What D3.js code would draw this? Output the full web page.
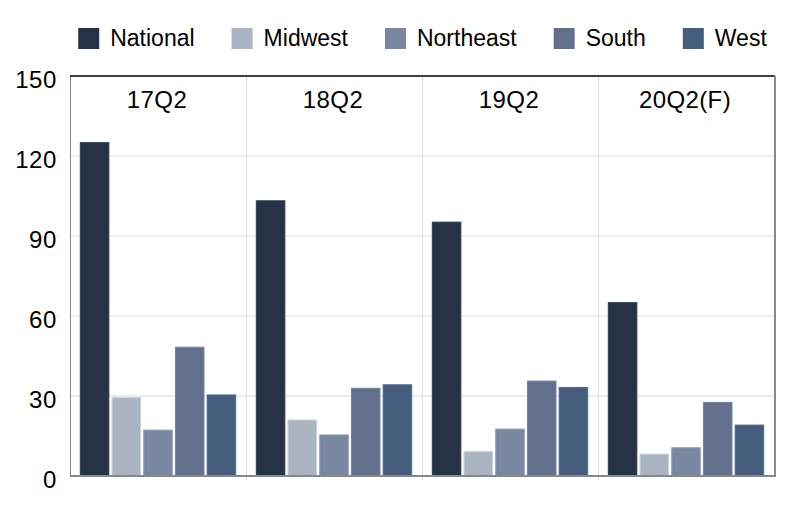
<!DOCTYPE html>
<html>
<head>
<meta charset="utf-8">
<script src="https://cdn.jsdelivr.net/npm/d3@7"></script>
<style>
  html, body { margin: 0; padding: 0; background: #fff; }
  svg { display: block; }
  text { font-family: "Liberation Sans", Arial, Helvetica, sans-serif; fill: #000; }
</style>
</head>
<body>
<svg id="chart" width="800" height="513"></svg>
<script>
const categories = ["17Q2", "18Q2", "19Q2", "20Q2(F)"];
const seriesNames = ["National", "Midwest", "Northeast", "South", "West"];
const seriesColors = ["#263347", "#aab5c1", "#7987a1", "#63708d", "#455d7c"];
const National  = [125, 103.2, 95.2, 65];
const Midwest   = [29.4, 21, 9.1, 8.2];
const Northeast = [17.2, 15.4, 17.6, 10.6];
const South     = [48.3, 32.9, 35.6, 27.6];
const West      = [30.4, 34.2, 33.2, 19.1];
const yTicks = [0, 30, 60, 90, 120, 150];

const seriesValues = [National, Midwest, Northeast, South, West];

const svg = d3.select("#chart");
const mLeft = 70, mRight = 775, mTop = 76, mBottom = 476;

const x0 = d3.scaleBand().domain(categories).range([mLeft, mRight - 1]).paddingInner(0).paddingOuter(0);
const x1 = d3.scaleBand().domain(seriesNames).range([0, x0.bandwidth()]).paddingInner(0.1).paddingOuter(0.325);
const y = d3.scaleLinear().domain([0, 150]).range([mBottom, mTop]);
const color = d3.scaleOrdinal().domain(seriesNames).range(seriesColors);

// horizontal gridlines
svg.append("g").selectAll("line")
  .data(yTicks.filter(t => t > 0 && t < 150))
  .join("line")
  .attr("x1", mLeft).attr("x2", mRight)
  .attr("y1", d => y(d)).attr("y2", d => y(d))
  .attr("stroke", d => d === 30 ? "#ececec" : "#dcdcdc")
  .attr("stroke-width", d => d === 30 ? 2 : 1);

// vertical dividers
svg.append("g").selectAll("line")
  .data(categories.slice(1))
  .join("line")
  .attr("x1", d => Math.round(x0(d)) + 0.5).attr("x2", d => Math.round(x0(d)) + 0.5)
  .attr("y1", mTop).attr("y2", mBottom + 4)
  .attr("stroke", "#dcdcdc").attr("stroke-width", 1);

// bars
const rows = [];
categories.forEach((c, ci) => {
  seriesNames.forEach((s, si) => rows.push({ cat: c, series: s, value: seriesValues[si][ci] }));
});
svg.append("g").selectAll("rect")
  .data(rows)
  .join("rect")
  .attr("x", d => x0(d.cat) + x1(d.series))
  .attr("width", x1.bandwidth())
  .attr("y", d => y(d.value))
  .attr("height", d => y(0) - y(d.value))
  .attr("fill", d => color(d.series))
  .attr("stroke", d => d3.color(color(d.series)).brighter(0.4))
  .attr("stroke-width", 1);

// frame
svg.append("line").attr("x1", mLeft + 0.5).attr("x2", mLeft + 0.5).attr("y1", mTop).attr("y2", mBottom)
  .attr("stroke", "#888").attr("stroke-width", 1);
svg.append("line").attr("x1", mLeft).attr("x2", mRight).attr("y1", mTop).attr("y2", mTop)
  .attr("stroke", "#000").attr("stroke-width", 1.5);
svg.append("line").attr("x1", mRight).attr("x2", mRight).attr("y1", mTop).attr("y2", mBottom)
  .attr("stroke", "#888").attr("stroke-width", 2);
svg.append("line").attr("x1", mLeft).attr("x2", mRight + 1).attr("y1", mBottom).attr("y2", mBottom)
  .attr("stroke", "#888").attr("stroke-width", 2);

// y axis labels
svg.append("g").selectAll("text")
  .data(yTicks)
  .join("text")
  .attr("x", 57)
  .attr("y", d => y(d) + 12)
  .attr("text-anchor", "end")
  .attr("font-size", 24)
  .attr("letter-spacing", 0.6)
  .text(d => d);

// category labels
svg.append("g").selectAll("text")
  .data(categories)
  .join("text")
  .attr("x", d => x0(d) + x0.bandwidth() / 2 - 1)
  .attr("y", 108)
  .attr("text-anchor", "middle")
  .attr("font-size", 24)
  .attr("letter-spacing", 0.4)
  .text(d => d);

// legend
const legend = svg.append("g");
const items = legend.selectAll("g").data(seriesNames).join("g");
items.append("rect").attr("x", 0).attr("y", 28).attr("width", 21).attr("height", 21)
  .attr("fill", d => color(d));
items.append("text").attr("x", 32).attr("y", 46).attr("font-size", 23).text(d => d);
let cx = 0;
const offsets = [];
const gap = 37;
items.each(function () {
  const w = d3.select(this).select("text").node().getComputedTextLength();
  offsets.push(cx);
  cx += 32 + w + gap;
});
const total = cx - gap;
const startX = (mLeft + mRight) / 2 - total / 2;
items.attr("transform", (d, i) => `translate(${startX + offsets[i]},0)`);
</script>
</body>
</html>
